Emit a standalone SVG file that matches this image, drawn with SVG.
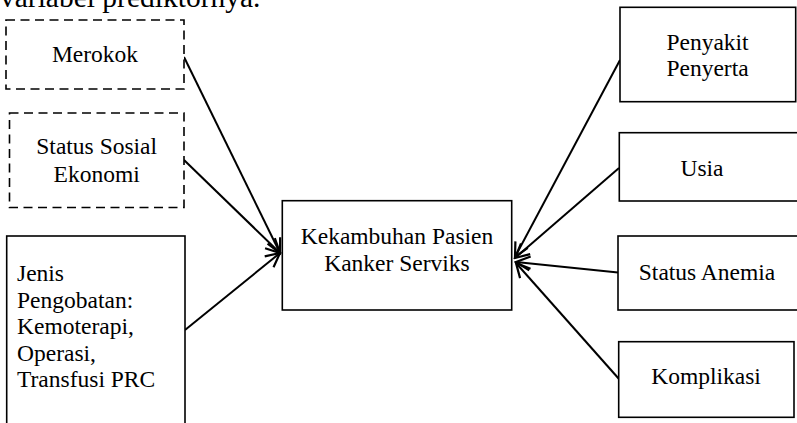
<svg xmlns="http://www.w3.org/2000/svg" width="797" height="423" viewBox="0 0 797 423">
<style>
text{font-family:"Liberation Serif","Times New Roman",serif;font-size:23.5px;fill:#000}
.box{fill:#fff;stroke:#000;stroke-width:1.6}
.dash{stroke-dasharray:9 5.5}
.c{text-anchor:middle}
.conn line{stroke:#000;stroke-width:2;fill:none}
</style>
<defs>
<marker id="arr" markerUnits="userSpaceOnUse" markerWidth="20" markerHeight="20" viewBox="0 0 20 20" refX="18" refY="10" orient="auto">
<path d="M4,3 L18,10 L4,17" fill="none" stroke="#000" stroke-width="2.2"/>
</marker>
</defs>
<rect width="797" height="423" fill="#fff"/>
<text x="0" y="7" style="font-size:29.5px">variabel prediktornya.</text>
<g class="conn">
<line x1="184" y1="57" x2="280" y2="253" marker-end="url(#arr)"/>
<line x1="184" y1="160" x2="280" y2="253" marker-end="url(#arr)"/>
<line x1="185" y1="330" x2="280" y2="253" marker-end="url(#arr)"/>
<line x1="620" y1="60" x2="515" y2="257" marker-end="url(#arr)"/>
<line x1="619" y1="168" x2="515" y2="258" marker-end="url(#arr)"/>
<line x1="618" y1="272.5" x2="516" y2="262" marker-end="url(#arr)"/>
<line x1="619" y1="379" x2="516" y2="263" marker-end="url(#arr)"/>
</g>
<g id="merokok">
<rect class="box dash" x="6" y="20" width="178" height="69"/>
<text class="c" x="95" y="62">Merokok</text>
</g>
<g id="status-sosial">
<rect class="box dash" x="9.5" y="113" width="174.5" height="94.5"/>
<text class="c" x="96.7" y="154.3">Status Sosial</text>
<text class="c" x="96.7" y="181.7">Ekonomi</text>
</g>
<g id="jenis">
<rect class="box" x="6.7" y="236" width="178.3" height="200"/>
<text x="17" y="281">Jenis</text>
<text x="17" y="307.5">Pengobatan:</text>
<text x="17" y="334">Kemoterapi,</text>
<text x="17" y="360.5">Operasi,</text>
<text x="17" y="387">Transfusi PRC</text>
</g>
<g id="kekambuhan">
<rect class="box" x="282.3" y="200.7" width="229.4" height="109.3"/>
<text class="c" x="397" y="244">Kekambuhan Pasien</text>
<text class="c" x="397" y="270.7">Kanker Serviks</text>
</g>
<g id="penyakit">
<rect class="box" x="620" y="7.3" width="175.7" height="94.4"/>
<text class="c" x="707.5" y="49.5">Penyakit</text>
<text class="c" x="707.5" y="75.5">Penyerta</text>
</g>
<g id="usia">
<rect class="box" x="619.3" y="132.7" width="190" height="68.3"/>
<text class="c" x="702" y="175.7">Usia</text>
</g>
<g id="status-anemia">
<rect class="box" x="618" y="236" width="190" height="74"/>
<text class="c" x="707" y="280">Status Anemia</text>
</g>
<g id="komplikasi">
<rect class="box" x="618.7" y="341.7" width="175.3" height="75.6"/>
<text class="c" x="706" y="384">Komplikasi</text>
</g>
</svg>
